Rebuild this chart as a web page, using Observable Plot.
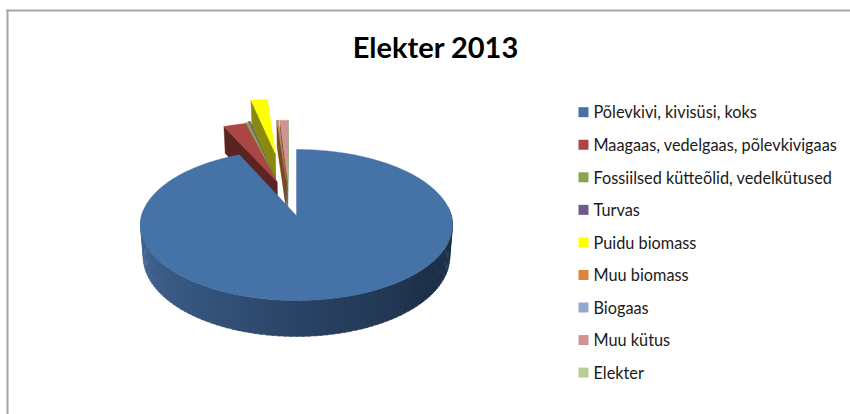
<!DOCTYPE html>
<html><head><meta charset="utf-8">
<script src="https://cdn.jsdelivr.net/npm/d3@7"></script>
<script src="https://cdn.jsdelivr.net/npm/@observablehq/plot@0.6"></script>
<style>html,body{margin:0;padding:0;background:#fff}svg{display:block}</style>
</head><body><div id="chart"></div>
<script>
const categories = ["Põlevkivi, kivisüsi, koks","Maagaas, vedelgaas, põlevkivigaas","Fossiilsed kütteõlid, vedelkütused","Turvas","Puidu biomass","Muu biomass","Biogaas","Muu kütus","Elekter"];
const values = [93.28, 2.7, 0.42, 0.25, 2.08, 0.15, 0.08, 1.0, 0.04];
const colors = ["#4572A7","#AA4643","#89A54E","#71588F","#FFFF00","#DB843D","#93A9CF","#D19392","#B9CD96"];
const wallColors = ["#2a4565","#5a2422","#4d5e2a","#43345a","#8a8a10","#7a4a20","#5a6a85","#7a5a20","#6a7a55"];
const explodeX = [0,-0.13,-0.135,-0.14,-0.15,-0.07,-0.07,-0.06,-0.06];
const explodeY = [0,0.47,0.48,0.5,0.92,0.5,0.5,0.5,0.5];
const drawOrder = [8,7,6,5,4,3,2,1,0];

// Perspective of the pie disc
const cx=296, k=154.8, persp=0.1258, depth0=31.5;
const sx=(X,Y)=>cx+X*k/(1+persp*Y);
const sy=(Y)=>(-47.25*Y+215)/(1+persp*Y);
const drop=(Y)=>depth0/(1+persp*Y);
const rad=d=>d*Math.PI/180;

let cum=0;
const slices=values.map((v,i)=>{const a0=cum; cum+=v*3.6; return {i,a0,a1:cum};});
const rows=[];
let id=0;
function poly(pts,color){const z=id++;pts.forEach(p=>rows.push({x:p[0],y:p[1],z,color}));}
const topP=(X,Y)=>[sx(X,Y),sy(Y)];
const botP=(X,Y)=>{const s=0.982;return [cx+(sx(X,Y)-cx)*s,sy(Y)+drop(Y)];};

for(const o of drawOrder){
  const s=slices[o], ax=explodeX[o], ay=explodeY[o], R=o===0?1:1.03;
  const P=a=>[ax+R*Math.sin(rad(a)),ay+R*Math.cos(rad(a))];
  if(o===0){
    const shade=d3.scaleLinear().domain([270,215,180,130,90]).range(["#45699a","#35547c","#2a4365","#1c3049","#1b2d44"]);
    for(let a=274;a>=86;a-=2){
      const p=P(a),q=P(a-2.5);
      poly([topP(...p),topP(...q),botP(...q),botP(...p)],shade(Math.max(90,Math.min(270,a))));
    }
    const pts=[topP(ax,ay)];
    for(let a=s.a0;a<=s.a1+.01;a+=2)pts.push(topP(...P(a)));
    pts.push(topP(...P(s.a1)));
    poly(pts,colors[o]);
  } else {
    const a=s.a0,b=s.a1;
    const pa=P(a),pb=P(b);
    poly([topP(ax,ay),topP(...pa),botP(...pa),botP(ax,ay)],wallColors[o]);
    const pts=[topP(ax,ay)];
    for(let t=a;t<=b;t+=0.5)pts.push(topP(...P(t)));
    pts.push(topP(...pb));
    poly(pts,colors[o]);
  }
}
const legendRows=categories.map((name,i)=>({name,color:colors[i],y:111.7+i*32.55}));
const frameColor="#a6a6a6";

const chart=Plot.plot({
  width:850,height:414,margin:0,
  x:{domain:[0,850],range:[0,850],axis:null},
  y:{domain:[0,414],range:[0,414],axis:null},
  color:{type:"identity"},
  style:{background:"#fff"},
  marks:[
    Plot.ruleX([7],{y1:10,y2:414,stroke:frameColor,strokeWidth:2}),
    Plot.ruleY([10],{x1:6,x2:850,stroke:frameColor,strokeWidth:2}),
    Plot.line(rows,{x:"x",y:"y",z:"z",fill:"color",stroke:"color",strokeWidth:0.4,curve:"linear"}),
    Plot.text(["Elekter 2013"],{x:()=>435,y:()=>48,text:d=>d,fontFamily:"Lato",fontWeight:700,fontSize:29,fill:"#000"}),
    Plot.dot(legendRows,{x:()=>583,y:"y",symbol:"square",r:5.64,fill:"color",stroke:null}),
    Plot.text(legendRows,{x:()=>593,y:d=>d.y+1,text:"name",textAnchor:"start",fontFamily:"Lato",fontSize:16.3,fill:"#1a1a1a"})
  ]
});
document.getElementById("chart").append(chart);
</script></body></html>
